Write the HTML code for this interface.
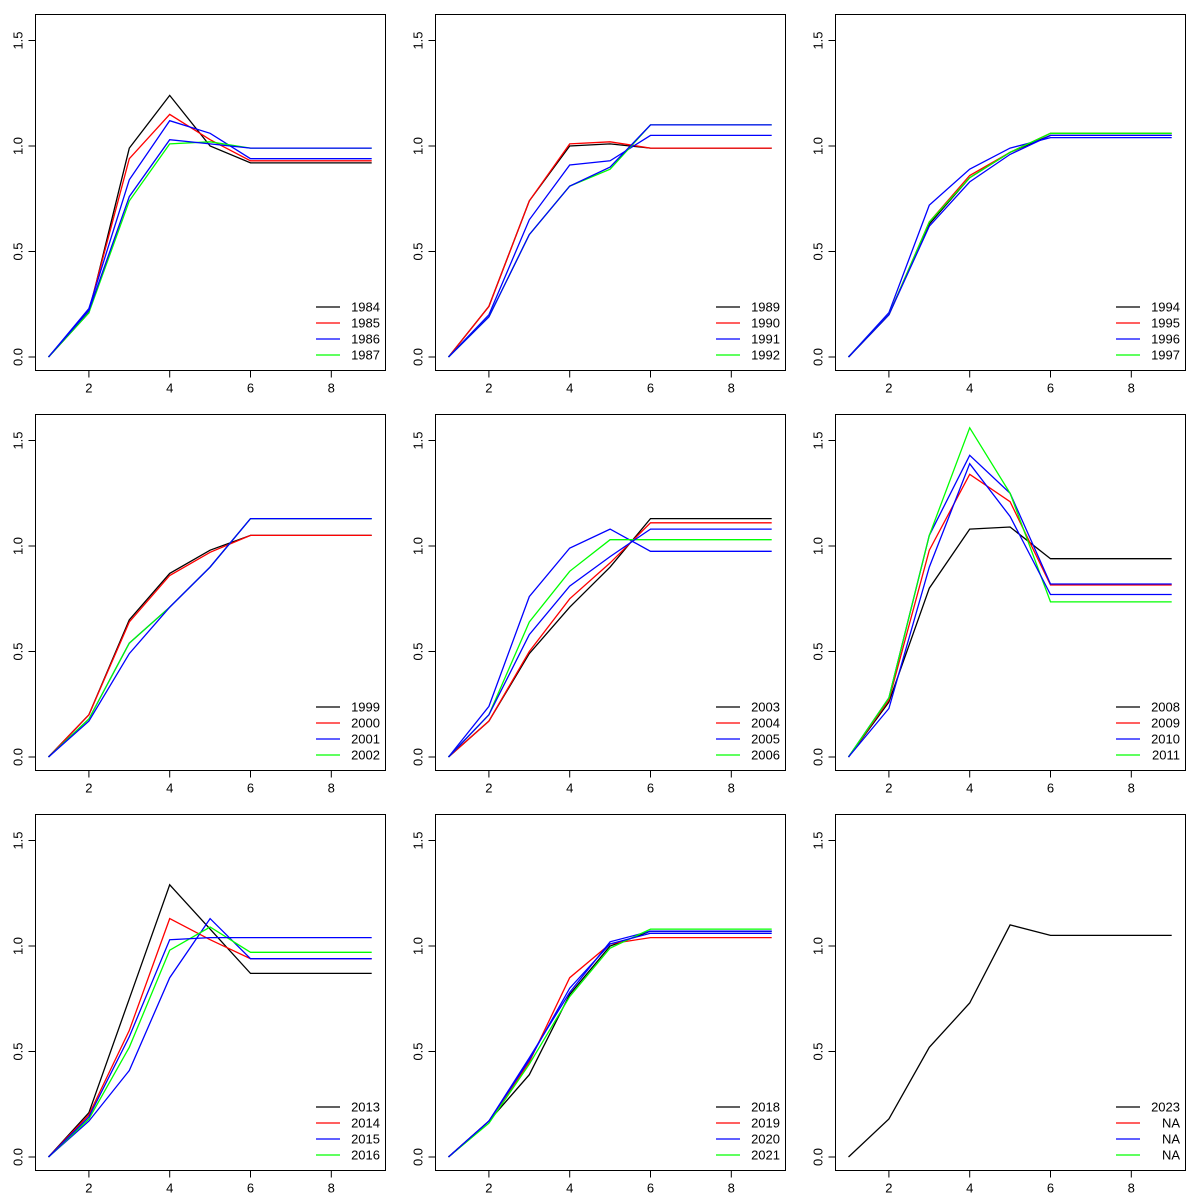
<!DOCTYPE html>
<html><head><meta charset="utf-8"><style>
html,body{margin:0;padding:0;background:#fff;}
svg{display:block;font-family:"Liberation Sans",sans-serif;}
</style></head><body>
<svg id="chart" width="1200" height="1200" viewBox="0 0 1200 1200"></svg>
<script>
const xValues=[1,2,3,4,5,6,7,8,9];
const yTicks=[0,0.5,1.0,1.5];
const yTickLabels=["0.0","0.5","1.0","1.5"];
const xTicks=[2,4,6,8];
const seriesColors=["#000000","#ff0000","#0000ff","#00ff00","#0000ff"];
const legendColors=["#000000","#ff0000","#0000ff","#00ff00"];
const legendLabels=[
 ["1984","1985","1986","1987"],["1989","1990","1991","1992"],["1994","1995","1996","1997"],
 ["1999","2000","2001","2002"],["2003","2004","2005","2006"],["2008","2009","2010","2011"],
 ["2013","2014","2015","2016"],["2018","2019","2020","2021"],["2023","NA","NA","NA"]];
const p1=[[0,.21,.99,1.24,1.0,.92,.92,.92,.92],[0,.22,.94,1.15,1.03,.93,.93,.93,.93],[0,.23,.84,1.12,1.06,.94,.94,.94,.94],[0,.21,.74,1.01,1.02,.99,.99,.99,.99],[0,.22,.76,1.03,1.01,.99,.99,.99,.99]];
const p2=[[0,.24,.74,1.0,1.01,.99,.99,.99,.99],[0,.24,.74,1.01,1.02,.99,.99,.99,.99],[0,.2,.65,.91,.93,1.05,1.05,1.05,1.05],[0,.19,.58,.81,.89,1.1,1.1,1.1,1.1],[0,.19,.58,.81,.9,1.1,1.1,1.1,1.1]];
const p3=[[0,.2,.63,.85,.97,1.05,1.05,1.05,1.05],[0,.2,.64,.86,.97,1.06,1.06,1.06,1.06],[0,.21,.72,.89,.99,1.04,1.04,1.04,1.04],[0,.2,.64,.85,.97,1.06,1.06,1.06,1.06],[0,.2,.62,.83,.96,1.05,1.05,1.05,1.05]];
const p4=[[0,.2,.65,.87,.98,1.05,1.05,1.05,1.05],[0,.2,.64,.86,.97,1.05,1.05,1.05,1.05],[0,.18,.54,.71,.9,1.13,1.13,1.13,1.13],[0,.18,.54,.71,.9,1.13,1.13,1.13,1.13],[0,.17,.49,.71,.9,1.13,1.13,1.13,1.13]];
const p5=[[0,.17,.49,.71,.9,1.13,1.13,1.13,1.13],[0,.17,.5,.75,.92,1.11,1.11,1.11,1.11],[0,.24,.76,.99,1.08,.975,.975,.975,.975],[0,.2,.64,.88,1.03,1.03,1.03,1.03,1.03],[0,.2,.58,.81,.95,1.08,1.08,1.08,1.08]];
const p6=[[0,.26,.8,1.08,1.09,.94,.94,.94,.94],[0,.27,.98,1.34,1.21,.815,.815,.815,.815],[0,.28,1.05,1.43,1.25,.82,.82,.82,.82],[0,.28,1.05,1.56,1.25,.735,.735,.735,.735],[0,.23,.9,1.39,1.14,.77,.77,.77,.77]];
const p7=[[0,.21,.75,1.29,1.08,.87,.87,.87,.87],[0,.2,.6,1.13,1.03,.94,.94,.94,.94],[0,.17,.41,.85,1.13,.94,.94,.94,.94],[0,.18,.52,.98,1.09,.97,.97,.97,.97],[0,.19,.57,1.03,1.04,1.04,1.04,1.04,1.04]];
const p8=[[0,.17,.39,.77,1.0,1.07,1.07,1.07,1.07],[0,.17,.45,.85,1.01,1.04,1.04,1.04,1.04],[0,.17,.47,.78,1.02,1.07,1.07,1.07,1.07],[0,.16,.44,.76,.99,1.08,1.08,1.08,1.08],[0,.17,.46,.8,1.01,1.06,1.06,1.06,1.06]];
const p9=[[0,.18,.52,.73,1.1,1.05,1.05,1.05,1.05]];
const panels=[p1,p2,p3,p4,p5,p6,p7,p8,p9];

const NS="http://www.w3.org/2000/svg";
const svg=document.getElementById('chart');
function mk(tag,attrs,parent){const e=document.createElementNS(NS,tag);for(const k in attrs)e.setAttribute(k,attrs[k]);parent.appendChild(e);return e;}
function xs(v){return 48.5+(v-1)*40.4;}
function ys(v){return 357-v*211;}
panels.forEach((series,i)=>{
 const col=i%3,row=Math.floor(i/3);
 const g=mk('g',{transform:`translate(${col*400},${row*400})`},svg);
 
 
 const box=mk('rect',{x:35.5,y:14.5,width:350,height:356,fill:'none',stroke:'#000','stroke-width':1},g);
 
 
 yTicks.forEach((t,k)=>{
  const y=ys(t);
  const tk=mk('line',{x1:35.5,x2:28.5,y1:y,y2:y,stroke:'#000'},g);
  
  
  const tx=mk('text',{x:18,y:y,'font-size':13,'text-anchor':'middle',transform:`rotate(-90 18 ${y})`,'dominant-baseline':'central'},g);
  tx.textContent=yTickLabels[k];
  
  
 });
 xTicks.forEach(t=>{
  const x=xs(t);
  const tk=mk('line',{x1:x,x2:x,y1:370.5,y2:377.5,stroke:'#000'},g);
  
  
  const tx=mk('text',{x:x,y:388,'font-size':13,'text-anchor':'middle','dominant-baseline':'central'},g);
  tx.textContent=t;
  
  
 });
 series.forEach((vals,s)=>{
  const pts=vals.map((v,k)=>xs(xValues[k]).toFixed(1)+','+ys(v).toFixed(1)).join(' ');
  const pl=mk('polyline',{points:pts,fill:'none',stroke:seriesColors[s],'stroke-width':1.3},g);
  
  
 });
 legendLabels[i].forEach((lab,k)=>{
  const y=307+k*16;
  const ln=mk('line',{x1:316,x2:340,y1:y,y2:y,stroke:legendColors[k],'stroke-width':1.2},g);
  
  
  const tx=mk('text',{x:380,y:y,'font-size':13,'text-anchor':'end','dominant-baseline':'central'},g);
  tx.textContent=lab;
  
  
 });
});
</script>
</body></html>
